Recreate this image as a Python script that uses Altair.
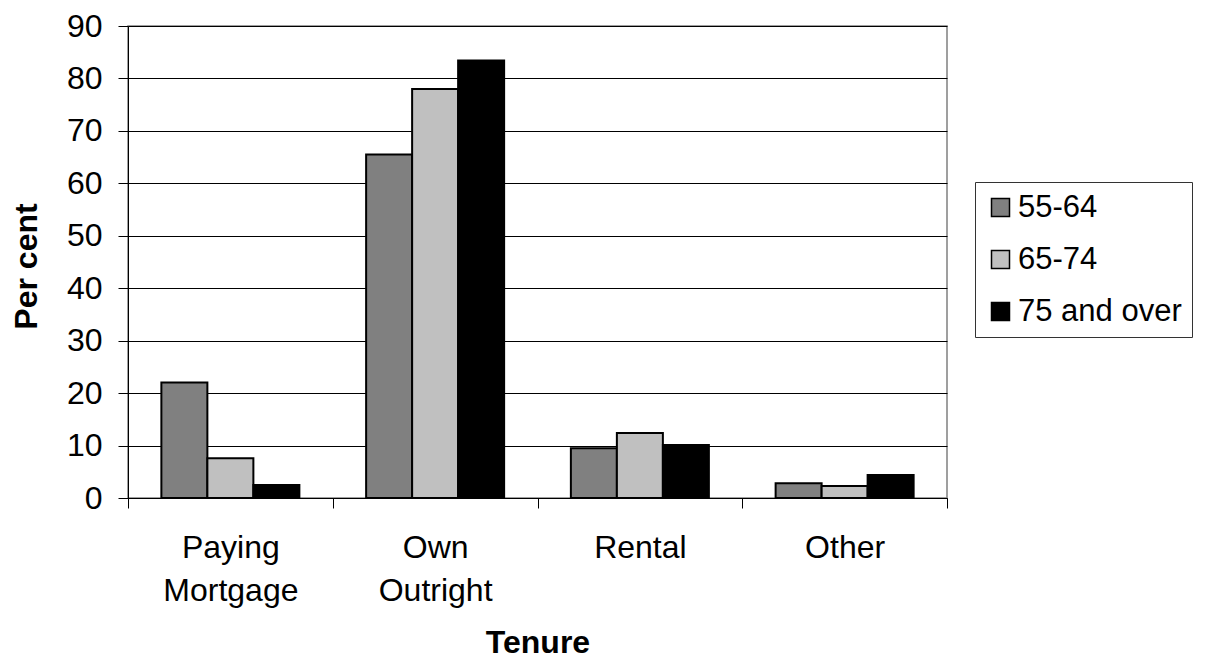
import altair as alt
import pandas as pd

categories = ["Paying Mortgage", "Own Outright", "Rental", "Other"]
age_groups = ["55-64", "65-74", "75 and over"]
v_55_64 = [22.0, 65.5, 9.5, 2.8]
v_65_74 = [7.6, 78.0, 12.4, 2.3]
v_75_over = [2.5, 83.4, 10.1, 4.4]
colors = ["#808080", "#c0c0c0", "#000000"]
y_ticks = [0, 10, 20, 30, 40, 50, 60, 70, 80, 90]

rows = []
for series, vals in zip(age_groups, [v_55_64, v_65_74, v_75_over]):
    for c, v in zip(categories, vals):
        rows.append({"Tenure": c, "Age": series, "Per cent": v})
df = pd.DataFrame(rows)

FONT = "Liberation Sans"

chart = alt.Chart(df).mark_bar(stroke="black", strokeWidth=2).encode(
    x=alt.X(
        "Tenure:N",
        sort=categories,
        scale=alt.Scale(paddingInner=0, paddingOuter=0),
        axis=alt.Axis(
            title="Tenure",
            labelAngle=0,
            tickBand="extent",
            labelExpr="split(datum.label, ' ')",
            labelLineHeight=43,
            labelPadding=24,
            labelFontSize=32,
            labelFont=FONT,
            labelColor="black",
            tickSize=10,
            tickColor="black",
            domainColor="black",
            titleFont=FONT,
            titleFontSize=32,
            titleFontWeight="bold",
            titleColor="black",
            titleY=154,
            titleBaseline="alphabetic",
            grid=False,
        ),
    ),
    xOffset=alt.XOffset(
        "Age:N",
        sort=age_groups,
        scale=alt.Scale(paddingInner=0, paddingOuter=0.7255),
    ),
    y=alt.Y(
        "Per cent:Q",
        scale=alt.Scale(domain=[0, 90], nice=False),
        axis=alt.Axis(
            values=y_ticks,
            title="Per cent",
            labelFontSize=32,
            labelFont=FONT,
            labelColor="black",
            labelPadding=16,
            tickSize=10,
            tickColor="black",
            domainColor="black",
            gridColor="black",
            gridWidth=1,
            titleFont=FONT,
            titleFontSize=32,
            titleFontWeight="bold",
            titleColor="black",
            titleAngle=270,
            titleX=-102,
            titleY=240,
            titleAlign="center",
            titleBaseline="middle",
        ),
    ),
    fill=alt.Fill(
        "Age:N",
        sort=age_groups,
        scale=alt.Scale(domain=age_groups, range=colors),
        legend=alt.Legend(
            title=None,
            orient="none",
            legendX=847,
            legendY=156,
            fillColor="white",
            strokeColor="#333333",
            padding=10,
            symbolType="square",
            symbolSize=324,
            symbolStrokeColor="black",
            symbolStrokeWidth=1.5,
            symbolOpacity=1,
            labelFont=FONT,
            labelFontSize=31,
            labelColor="black",
            labelOffset=2,
            labelLimit=400,
            rowPadding=20,
        ),
    ),
).properties(
    width=819,
    height=472,
    autosize=alt.AutoSizeParams(type="none"),
    padding={"left": 120, "top": 18, "right": 251, "bottom": 161},
    background="white",
).configure_view(
    stroke="#808080",
    strokeWidth=1.5,
)

chart.save("out.html", embed_options={"renderer": "svg", "actions": False})
